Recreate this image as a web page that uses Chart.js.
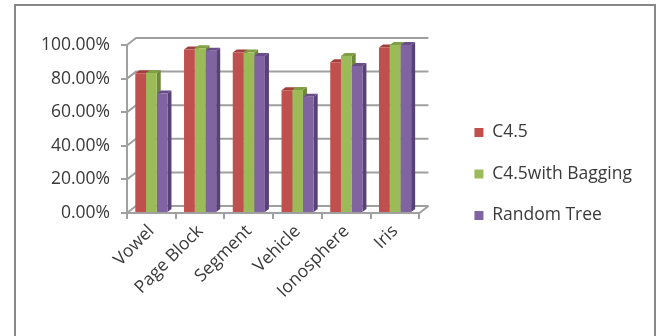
<!DOCTYPE html>
<html>
<head>
<meta charset="utf-8">
<script src="https://cdn.jsdelivr.net/npm/chart.js@4/dist/chart.umd.min.js"></script>
<style>
  html, body { margin: 0; padding: 0; background: #fff; }
  canvas { display: block; }
</style>
</head>
<body>
<canvas id="chart" width="657" height="336"></canvas>
<script>
// data (accuracy, %)
const categories = ['Vowel', 'Page Block', 'Segment', 'Vehicle', 'Ionosphere', 'Iris'];
const c45 = [83.2, 97.3, 95.6, 73.1, 89.7, 98.5];
const c45Bagging = [83.3, 98.0, 95.5, 73.2, 93.5, 100];
const randomTree = [71.1, 96.6, 93.5, 69.2, 87.5, 100];
const seriesNames = ['C4.5', 'C4.5with Bagging', 'Random Tree'];

// front / top / side shades per series
const shades = [
    { front: '#C0504D', top: '#A23F3C', side: '#8C3431' },
    { front: '#9BBB59', top: '#809E44', side: '#6E8A38' },
    { front: '#8064A2', top: '#694F89', side: '#574176' }
];

const FONT = { family: '"Open Sans", "Liberation Sans", sans-serif', size: 17.5 };
const TEXT = '#3a3a3a';
const GRID = '#a0a0a0';
const GX = 9, GY = 7;   // back wall offset
const BX = 4, BY = 3;   // bar depth

// pseudo 3d: back wall gridlines + bar tops/sides, drawn under the bar fronts
const depthPlugin = {
    id: 'depth',
    beforeDatasetsDraw(chart) {
        const ctx = chart.ctx;
        const y = chart.scales.y;
        const { left, right, bottom } = chart.chartArea;
        ctx.save();
        ctx.strokeStyle = GRID;
        ctx.lineWidth = 2;
        y.ticks.forEach((t, i) => {
            const py = y.getPixelForTick(i);
            ctx.beginPath();
            ctx.moveTo(left, py);
            ctx.lineTo(left + GX, py - GY);
            ctx.lineTo(right + GX, py - GY);
            ctx.stroke();
        });
        ctx.beginPath();
        ctx.moveTo(right, bottom);
        ctx.lineTo(right + GX, bottom - GY);
        ctx.stroke();

        chart.data.datasets.forEach((ds, di) => {
            const meta = chart.getDatasetMeta(di);
            meta.data.forEach(bar => {
                const w = bar.width;
                const x0 = bar.x - w / 2, x1 = bar.x + w / 2;
                // side
                ctx.fillStyle = shades[di].side;
                ctx.beginPath();
                ctx.moveTo(x1, bar.y);
                ctx.lineTo(x1 + BX, bar.y - BY);
                ctx.lineTo(x1 + BX, bar.base - BY);
                ctx.lineTo(x1, bar.base);
                ctx.closePath();
                ctx.fill();
                // top
                ctx.fillStyle = shades[di].top;
                ctx.beginPath();
                ctx.moveTo(x0, bar.y);
                ctx.lineTo(x0 + BX, bar.y - BY);
                ctx.lineTo(x1 + BX, bar.y - BY);
                ctx.lineTo(x1, bar.y);
                ctx.closePath();
                ctx.fill();
            });
        });
        ctx.restore();
    },
    afterDraw(chart) {
        // outer frame (no bottom edge in the picture)
        const ctx = chart.ctx;
        ctx.save();
        ctx.strokeStyle = '#888';
        ctx.lineWidth = 2;
        ctx.beginPath();
        ctx.moveTo(15, 336);
        ctx.lineTo(15, 5);
        ctx.lineTo(655, 5);
        ctx.lineTo(655, 336);
        ctx.stroke();
        ctx.restore();
    }
};

const dataSeries = [c45, c45Bagging, randomTree];

new Chart(document.getElementById('chart'), {
    type: 'bar',
    data: {
        labels: categories,
        datasets: dataSeries.map((vals, i) => ({
            label: seriesNames[i],
            data: vals,
            backgroundColor: shades[i].front,
            borderWidth: 0,
            categoryPercentage: 0.66,
            barPercentage: 1.0
        }))
    },
    options: {
        responsive: false,
        animation: false,
        devicePixelRatio: 1,
        layout: { padding: { top: 45, left: 0, right: 15, bottom: 33 } },
        plugins: {
            tooltip: { enabled: false },
            legend: {
                position: 'right',
                maxWidth: 240,
                labels: {
                    boxWidth: 9,
                    boxHeight: 9,
                    padding: 24,
                    color: TEXT,
                    font: FONT
                }
            }
        },
        scales: {
            x: {
                grid: { drawOnChartArea: false, color: GRID, lineWidth: 2, tickLength: 6 },
                border: { color: GRID, width: 2 },
                ticks: { color: TEXT, font: FONT, minRotation: 45, maxRotation: 45, padding: 2 },
                afterFit: s => { s.height = 90; }
            },
            y: {
                min: 0,
                max: 100,
                grid: { drawOnChartArea: false, color: GRID, lineWidth: 2, tickLength: 6 },
                border: { color: GRID, width: 2 },
                ticks: {
                    stepSize: 20,
                    color: TEXT,
                    font: FONT,
                    padding: 11,
                    callback: v => v.toFixed(2) + '%'
                },
                afterFit: s => { s.width = 127; }
            },
            gap: {
                type: 'linear',
                position: 'right',
                grid: { display: false },
                border: { display: false },
                ticks: { display: false },
                afterFit: s => { s.width = 31; }
            }
        }
    },
    plugins: [depthPlugin]
});
</script>
</body>
</html>
